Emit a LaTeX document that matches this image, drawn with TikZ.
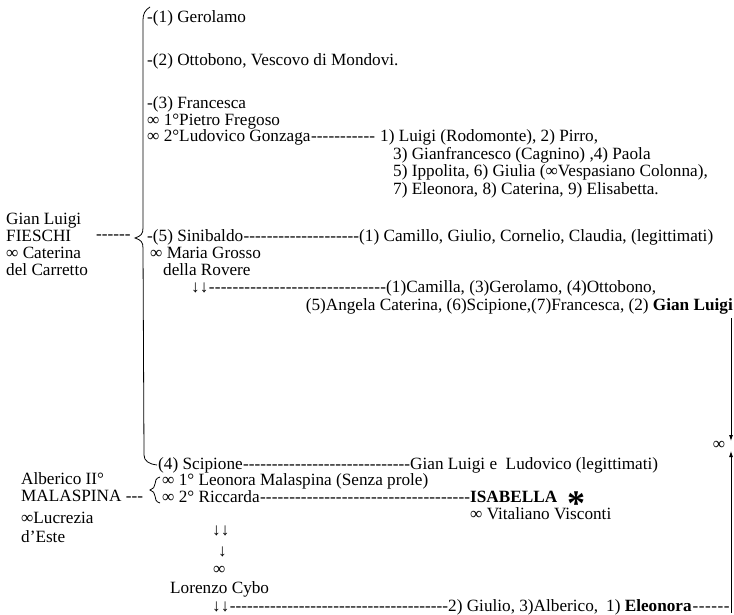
\documentclass[tikz,border=0pt]{standalone}
\usepackage{fontspec}
\setmainfont{Liberation Serif}
\usetikzlibrary{arrows.meta,calc}
\newcommand\dfill[1]{\hbox to #1{\xleaders\hbox{-}\hfill}}
\begin{document}
\begin{tikzpicture}[x=1pt,y=-1pt,
  t/.style={anchor=base west,inner sep=0pt,font=\fontsize{17.2}{17}\selectfont},
  brace/.style={line width=0.8pt},
  arr/.style={line width=0.8pt,-{Latex[length=6pt,width=4pt]}}]
\useasboundingbox (0,0) rectangle (734,615);
% left block
\node[t] (gl1) at (6,224) {Gian Luigi};
\node[t] (gl2) at (6,241) {FIESCHI};
\node[t] (gl3) at (6,258) {∞ Caterina};
\node[t] (gl4) at (6,275) {del Carretto};
\node[t] (gld) at (96,240) {-{}-{}-{}-{}-{}-};
% brace
\draw[brace] (150,7) .. controls (145,10) and (143,14) .. (143,20)
  -- (143,228) .. controls (143,234) and (141,236) .. (135,238)
  .. controls (141,240) and (143,242) .. (143,248)
  -- (144,455) .. controls (144,461) and (149,464) .. (157,465);
% children
\node[t] (g1) at (147,23) {-(1) Gerolamo};
\node[t] (g2) at (147,66) {-(2) Ottobono, Vescovo di Mondovi.};
\node[t] (g3) at (147,109) {-(3) Francesca};
\node[t] (g3a) at (147,126) {∞ 1°Pietro Fregoso};
\node[t] (g3b) at (147,142) {∞ 2°Ludovico Gonzaga};
\node[t] (c3a) at (380,142) {1) Luigi (Rodomonte), 2) Pirro,};
\node[t] (c3b) at (393,160) {3) Gianfrancesco (Cagnino) ,4) Paola};
\node[t] (c3c) at (393,177) {5) Ippolita, 6) Giulia (∞Vespasiano Colonna),};
\node[t] (c3d) at (393,194) {7) Eleonora, 8) Caterina, 9) Elisabetta.};
\path let \p1=(g3b.base east), \p2=(c3a.base west), \n1={\x2-\x1-5pt} in
  node[t] (d3) at (\p1) {\dfill{\n1}};
% Sinibaldo
\node[t] (s1) at (147,241) {-(5) Sinibaldo};
\node[t] (sc) at (359,241) {(1) Camillo, Giulio, Cornelio, Claudia, (legittimati)};
\path let \p1=(s1.base east), \p2=(sc.base west), \n1={\x2-\x1} in
  node[t] (d5) at (\p1) {\dfill{\n1}};
\node[t] (s2) at (150,258) {∞ Maria Grosso};
\node[t] (s3) at (163,275) {della Rovere};
\node[t] (s4) at (191,292) {↓↓};
\node[t] (s5) at (386,292) {(1)Camilla, (3)Gerolamo, (4)Ottobono,};
\path let \p1=(s4.base east), \p2=(s5.base west), \n1={\x2-\x1} in
  node[t] (d6) at (\p1) {\dfill{\n1}};
\node[t,anchor=base east] (s6) at (733,310) {(5)Angela Caterina, (6)Scipione,(7)Francesca, (2) \textbf{Gian Luigi}};
% Scipione
\node[t] (p1) at (158,469) {(4) Scipione};
\node[t] (p2) at (410,469) {Gian Luigi e\ \ Ludovico (legittimati)};
\path let \p1=(p1.base east), \p2=(p2.base west), \n1={\x2-\x1} in
  node[t] (d7) at (\p1) {\dfill{\n1}};
% Alberico
\node[t] (a1) at (21,484) {Alberico II°};
\node[t] (a2) at (21,501) {MALASPINA -{}-{}-};
\node[t] (a3) at (21,523) {∞Lucrezia};
\node[t] (a4) at (21,542) {d’Este};
\draw[brace] (160,477) .. controls (156,478) and (155,481) .. (155,484)
  .. controls (155,487) and (153,489) .. (150,490)
  .. controls (153,491) and (155,493) .. (155,496)
  .. controls (155,499) and (156,502) .. (160,503);
\node[t] (p3) at (162,485) {∞ 1° Leonora Malaspina (Senza prole)};
\node[t] (p4) at (162,502) {∞ 2° Riccarda};
\node[t] (p5) at (470,502) {\textbf{ISABELLA}};
\path let \p1=(p4.base east), \p2=(p5.base west), \n1={\x2-\x1} in
  node[t] (d8) at (\p1) {\dfill{\n1}};
\node[t,font=\fontsize{36}{36}\selectfont\bfseries,text height=28pt,text depth=-11pt] (ast) at (567,515) {*};
\node[t] (p6) at (470,519) {∞ Vitaliano Visconti};
\node[t] (q1) at (212,535) {↓↓};
\node[t] (q2) at (218,556) {↓};
\node[t] (q3) at (213,574) {∞};
\node[t] (lc) at (170,593) {Lorenzo Cybo};
\node[t] (q4) at (212,611) {↓↓};
\node[t] (r1) at (448,611) {2) Giulio, 3)Alberico,};
\node[t] (r2) at (606,611) {1) \textbf{Eleonora}};
\path let \p1=(q4.base east), \p2=(r1.base west), \n1={\x2-\x1} in
  node[t] (d9) at (\p1) {\dfill{\n1}};
\coordinate (rend) at (730,611);
\path let \p1=(r2.base east), \p2=(rend), \n1={\x2-\x1} in
  node[t] (d10) at (\p1) {\dfill{\n1}};
% right connector
\coordinate (rtop) at (731,318);
\coordinate (rdown) at (731,441);
\coordinate (rbot) at (731,613);
\coordinate (rup) at (731,451);
\node[t,anchor=center] (inf) at (719,445) {∞};
\draw[arr] (rtop) -- (rdown);
\draw[arr] (rbot) -- (rup);
\end{tikzpicture}
\end{document}
